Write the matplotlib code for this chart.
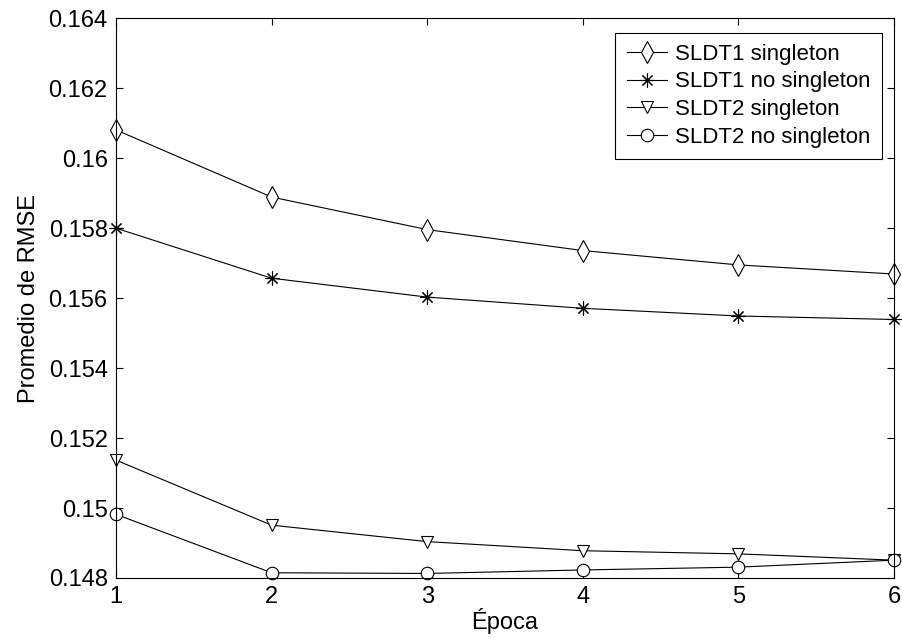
import matplotlib
matplotlib.use('Agg')
import matplotlib.pyplot as plt
from matplotlib.ticker import FuncFormatter

epoch = [1, 2, 3, 4, 5, 6]
sldt1_single = [0.16081, 0.15889, 0.15796, 0.15736, 0.15695, 0.15669]
sldt1_nosingle = [0.15800, 0.15657, 0.15603, 0.15571, 0.15549, 0.15539]
sldt2_single = [0.15137, 0.14951, 0.14904, 0.14878, 0.14869, 0.14851]
sldt2_nosingle = [0.14982, 0.14815, 0.14813, 0.14823, 0.14831, 0.14851]
labels = ['SLDT1 singleton', 'SLDT1 no singleton', 'SLDT2 singleton', 'SLDT2 no singleton']

plt.rcParams['font.family'] = ['Liberation Sans', 'DejaVu Sans']
plt.rcParams['font.size'] = 17

fig = plt.figure(figsize=(9.02, 6.38), dpi=100)
ax = fig.add_axes([116 / 902, 1 - 578 / 638, (894 - 116) / 902, (578 - 18.3) / 638])

kw = dict(color='black', lw=0.8, mfc='white', mec='black', mew=0.8, clip_on=False)
ax.plot(epoch, sldt1_single, marker='d', ms=11, label=labels[0], **kw)
ax.plot(epoch, sldt1_nosingle, marker=(8, 2, 0), ms=10, label=labels[1], **kw)
ax.plot(epoch, sldt2_single, marker='v', ms=9, label=labels[2], **kw)
ax.plot(epoch, sldt2_nosingle, marker='o', ms=9, label=labels[3], **kw)

ax.set_xlim(1, 6)
ax.set_ylim(0.148, 0.164)
ax.set_xticks(epoch)
ax.set_yticks([0.148 + 0.002 * i for i in range(9)])
ax.yaxis.set_major_formatter(FuncFormatter(lambda v, p: f'{round(v, 3):g}'))
ax.tick_params(direction='in', length=5, width=0.8, top=True, right=True, pad=6)
for s in ax.spines.values():
    s.set_linewidth(0.8)

ax.set_xlabel('Época', labelpad=0)
ax.set_ylabel('Promedio de RMSE', labelpad=6)

leg = ax.legend(loc='upper right', bbox_to_anchor=(882 / 902, 1 - 32.7 / 638),
                bbox_transform=fig.transFigure, borderaxespad=0, fancybox=False,
                edgecolor='black', framealpha=1, handlelength=1.8, labelspacing=0.3,
                borderpad=0.5, handletextpad=0.4, fontsize=16)
leg.get_frame().set_linewidth(0.8)

fig.savefig('out.png', dpi=100)
